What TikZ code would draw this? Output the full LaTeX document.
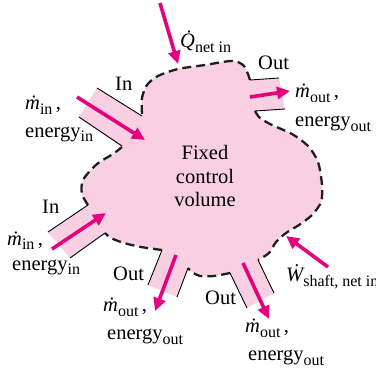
\documentclass[tikz,border=0pt]{standalone}
\usepackage{fontspec}
\setmainfont{Liberation Serif}
\usetikzlibrary{arrows.meta}
\definecolor{cvpink}{RGB}{249,208,226}
\definecolor{flowmag}{RGB}{229,0,126}
\newcommand{\lowidx}[1]{\raisebox{-5pt}{\fontsize{16}{16}\selectfont #1}}
\newcommand{\mdot}{{\itshape\.m}}

\begin{document}
\begin{tikzpicture}[x=1pt, y=-1pt,
  lbl/.style={anchor=base west, inner sep=0pt, font=\fontsize{20.5}{23.5}\selectfont},
  duct/.style={line width=0.9pt},
  cvline/.style={black!88, line width=2.3pt, dash pattern=on 9pt off 5pt},
  flow/.style={flowmag, line width=3.6pt, -{Triangle[length=13pt, width=12pt]}}]
\useasboundingbox (0,0) rectangle (376,372);
% control volume with its five ducts
\fill[cvpink] (97,88) -- (142,116)
  -- plot[smooth] coordinates {(142,114) (142,98) (147,85) (158,76) (178,69) (205,65) (232,61) (244,66) (250,80)}
  -- (279,78) -- (285,109) -- (255,111)
  -- plot[smooth] coordinates {(255,111) (260,118) (272,125) (292,134) (308,146) (318,162) (322,185) (321,202) (312,215) (299,225) (286,233) (276,242) (269,253) (258,260)}
  -- (274,293) -- (247,308) -- (230,273)
  -- plot[smooth] coordinates {(230,273) (214,276) (200,276) (192,272) (188,268)}
  -- (177,297) -- (148,285) -- (162,250)
  -- plot[smooth] coordinates {(162,250) (141,247) (124,243) (111,238) (105,233)}
  -- (70,258) -- (48,232) -- (88,205)
  -- plot[smooth] coordinates {(88,205) (82,194) (83,180) (97,164) (113,154) (122,147)}
  -- (79,117) -- cycle;
% boundary, dashed between the ducts
\draw[cvline] plot[smooth] coordinates {(142,114) (142,98) (147,85) (158,76) (178,69) (205,65) (232,61) (244,66) (250,80)};
\draw[cvline] plot[smooth] coordinates {(255,111) (260,118) (272,125) (292,134) (308,146) (318,162) (322,185) (321,202) (312,215) (299,225) (286,233) (276,242) (269,253) (258,260)};
\draw[cvline] plot[smooth] coordinates {(230,273) (214,276) (200,276) (192,272) (188,268)};
\draw[cvline] plot[smooth] coordinates {(162,250) (141,247) (124,243) (111,238) (105,233)};
\draw[cvline] plot[smooth] coordinates {(88,205) (82,194) (83,180) (97,164) (113,154) (122,147)};
% duct walls
\draw[duct] (97,88) -- (142,116);
\draw[duct] (79,117) -- (122,146);
\draw[duct] (250,80) -- (279,78);
\draw[duct] (255,111) -- (285,109);
\draw[duct] (258,260) -- (274,293);
\draw[duct] (230,273) -- (247,308);
\draw[duct] (188,268) -- (177,297);
\draw[duct] (162,250) -- (148,285);
\draw[duct] (105,233) -- (70,258);
\draw[duct] (88,205) -- (48,232);
% flow arrows
\coordinate (q0) at (160,3);   \coordinate (q1) at (178,64);
\coordinate (a0) at (77,97);   \coordinate (a1) at (145,140);
\coordinate (b0) at (250,97);  \coordinate (b1) at (290,91);
\coordinate (c0) at (52,249);  \coordinate (c1) at (106,213);
\coordinate (d0) at (176,255); \coordinate (d1) at (155,311);
\coordinate (e0) at (243,263); \coordinate (e1) at (269,319);
\coordinate (w0) at (328,267); \coordinate (w1) at (286,236);
\draw[flow] (q0) -- (q1);
\draw[flow] (a0) -- (a1);
\draw[flow] (b0) -- (b1);
\draw[flow] (c0) -- (c1);
\draw[flow] (d0) -- (d1);
\draw[flow] (e0) -- (e1);
\draw[flow] (w0) -- (w1);
% labels
\node[lbl, anchor=center, align=center] (cv) at (205,176) {Fixed\\control\\volume};
\node[lbl] (qin) at (180,48) {{\itshape\.Q}\lowidx{net in}};
\node[lbl] (inA) at (115,90) {In};
\node[lbl] (minA) at (25,110) {\mdot\lowidx{in}\,,};
\node[lbl] (enA) at (25,137) {energy\lowidx{in}};
\node[lbl] (outA) at (258,70) {Out};
\node[lbl] (moutA) at (295,98) {\mdot\lowidx{out}\,,};
\node[lbl] (enoutA) at (295,127) {energy\lowidx{out}};
\node[lbl] (inB) at (42,213) {In};
\node[lbl] (minB) at (7,245) {\mdot\lowidx{in}\,,};
\node[lbl] (enB) at (12,270) {energy\lowidx{in}};
\node[lbl] (outB) at (113,280) {Out};
\node[lbl] (moutB) at (103,312) {\mdot\lowidx{out}\,,};
\node[lbl] (enoutB) at (107,340) {energy\lowidx{out}};
\node[lbl] (outC) at (205,305) {Out};
\node[lbl] (moutC) at (245,333) {\mdot\lowidx{out}\,,};
\node[lbl] (enoutC) at (248,360) {energy\lowidx{out}};
\node[lbl] (wsh) at (286,282) {{\itshape\.W}\lowidx{shaft, net in}};
\end{tikzpicture}
\end{document}
